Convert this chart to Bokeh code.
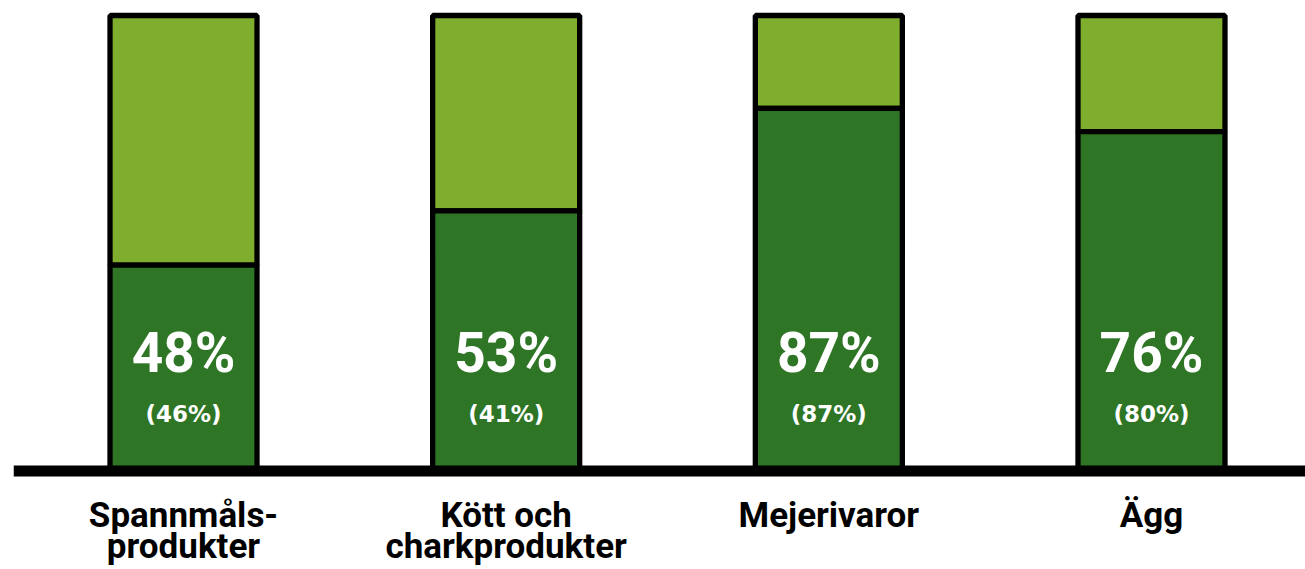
from bokeh.plotting import figure
from bokeh.models import Range1d, Span, ColumnDataSource
from bokeh.core.properties import value
from bokeh.embed import file_html
from bokeh.resources import INLINE

# ---- data ----
categories = ["Spannmåls-\nprodukter", "Kött och\ncharkprodukter", "Mejerivaror", "Ägg"]
dark_share = [45.2, 57.1, 79.6, 74.5]          # bar split
main_labels = ["48%", "53%", "87%", "76%"]
sub_labels = ["(46%)", "(41%)", "(87%)", "(80%)"]
total = [100, 100, 100, 100]

LIGHT = "#7FAD2D"
DARK = "#2E7526"

xs = list(range(len(categories)))
line1 = [c.split("\n")[0] for c in categories]
line2 = [c.split("\n")[1] if "\n" in c else "" for c in categories]

src = ColumnDataSource(dict(x=xs, dark=dark_share, total=total,
                            main=main_labels, sub=sub_labels,
                            l1=line1, l2=line2))

W, H = 1305, 569
p = figure(width=W, height=H, output_backend="svg", toolbar_location=None,
           x_range=Range1d(-0.5269, 3.4773), y_range=Range1d(-21.62, 103.29),
           min_border_left=13, min_border_right=0, min_border_top=0, min_border_bottom=0)
p.axis.visible = False
p.grid.visible = False
p.outline_line_color = None
p.background_fill_color = "white"
p.border_fill_color = "white"

BW = 0.4556
p.vbar(x="x", bottom="dark", top="total", width=BW, source=src,
       fill_color=LIGHT, line_color="black", line_width=5.3)
p.vbar(x="x", bottom=0, top="dark", width=BW, source=src,
       fill_color=DARK, line_color="black", line_width=5.3)

p.add_layout(Span(location=0, dimension="width", line_color="black", line_width=11))

p.text(x="x", y=25.80, text="main", source=src, text_align="center",
       text_baseline="alphabetic", text_color="white",
       text_font=value("Roboto"), text_font_style="bold", text_font_size="55px")
p.text(x="x", y=12.62, text="sub", source=src, text_align="center",
       text_baseline="alphabetic", text_color="white",
       text_font=value("DejaVu Sans"), text_font_style="bold", text_font_size="23px")

p.text(x="x", y=-9.77, text="l1", source=src, text_align="center",
       text_baseline="alphabetic", text_color="black",
       text_font=value("Roboto"), text_font_style="bold", text_font_size="35px")
p.text(x="x", y=-16.58, text="l2", source=src, text_align="center",
       text_baseline="alphabetic", text_color="black",
       text_font=value("Roboto"), text_font_style="bold", text_font_size="35px")

open("out.html", "w").write(file_html(p, INLINE))
